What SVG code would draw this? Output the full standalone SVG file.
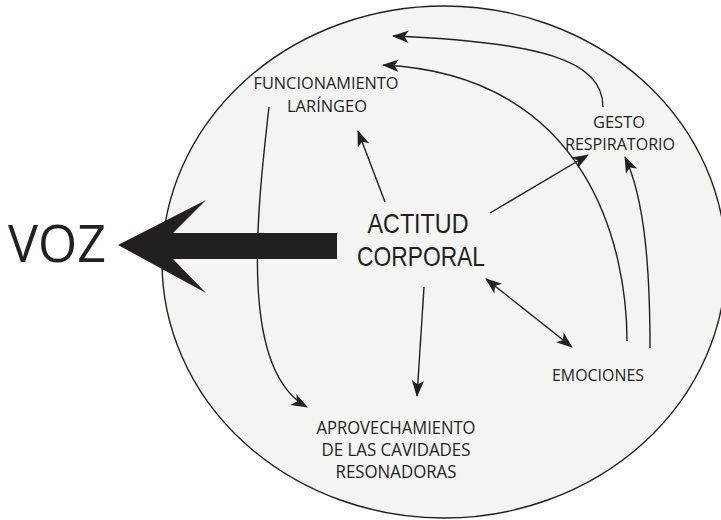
<svg xmlns="http://www.w3.org/2000/svg" width="721" height="520" viewBox="0 0 721 520">
<defs>
<style>
.t{font-family:"Open Sans","Liberation Sans",sans-serif;fill:#231f20;text-anchor:middle}
.b{font-family:"Liberation Sans","Open Sans",sans-serif;fill:#231f20;text-anchor:middle}
.c{fill:none;stroke:#231f20;stroke-width:1.4}
</style>
<marker id="ah" viewBox="0 0 16 12" markerUnits="userSpaceOnUse" markerWidth="17" markerHeight="12.5" refX="15" refY="6" orient="auto-start-reverse">
<path d="M0,0 L16,6 L0,12 L4,6 Z" fill="#231f20"/>
</marker>
</defs>
<rect width="721" height="520" fill="#ffffff"/>
<ellipse id="circle" cx="444" cy="262" rx="282" ry="256" fill="#f4f4f3" stroke="#231f20" stroke-width="1.4"/>
<g id="connectors">
<path class="c" d="M269,107 C256,220 240,370 307,407" marker-end="url(#ah)"/>
<path class="c" d="M385,202 L358,131" marker-end="url(#ah)"/>
<path class="c" d="M490,213 L588,155" marker-end="url(#ah)"/>
<path class="c" d="M424,287 L417,396" marker-end="url(#ah)"/>
<path class="c" d="M486,279 L572,347" marker-start="url(#ah)" marker-end="url(#ah)"/>
<path class="c" d="M650,348 C650,270 645,200 625,157" marker-end="url(#ah)"/>
<path class="c" d="M627,341 C627,250 590,75 383,65" marker-end="url(#ah)"/>
<path class="c" d="M603,107 C603,60 540,42 393,36" marker-end="url(#ah)"/>
<path id="bigarrow" d="M118,245 L206,200 L173,233 L337,233 L337,259 L173,259 L206,293 Z" fill="#231f20"/>
</g>
<g id="voz"><text class="t" x="57" y="262" font-size="52" textLength="98" lengthAdjust="spacingAndGlyphs">VOZ</text></g>
<g id="funcionamiento">
<text class="t" x="326" y="89" font-size="16" textLength="145" lengthAdjust="spacingAndGlyphs">FUNCIONAMIENTO</text>
<text class="t" x="327" y="112" font-size="16" textLength="80" lengthAdjust="spacingAndGlyphs">LARÍNGEO</text>
</g>
<g id="gesto">
<text class="t" x="619" y="128" font-size="16" textLength="52" lengthAdjust="spacingAndGlyphs">GESTO</text>
<text class="t" x="620" y="150" font-size="16" textLength="110" lengthAdjust="spacingAndGlyphs">RESPIRATORIO</text>
</g>
<g id="actitud">
<text class="b" x="418" y="233" font-size="27.5" textLength="101" lengthAdjust="spacingAndGlyphs">ACTITUD</text>
<text class="b" x="421" y="266" font-size="27.5" textLength="128" lengthAdjust="spacingAndGlyphs">CORPORAL</text>
</g>
<g id="emociones"><text class="t" x="598" y="381" font-size="17" textLength="92" lengthAdjust="spacingAndGlyphs">EMOCIONES</text></g>
<g id="aprovechamiento">
<text class="t" x="396" y="434" font-size="17.5" textLength="159" lengthAdjust="spacingAndGlyphs">APROVECHAMIENTO</text>
<text class="t" x="396" y="456" font-size="17.5" textLength="149" lengthAdjust="spacingAndGlyphs">DE LAS CAVIDADES</text>
<text class="t" x="396" y="478" font-size="17.5" textLength="121" lengthAdjust="spacingAndGlyphs">RESONADORAS</text>
</g>
</svg>
